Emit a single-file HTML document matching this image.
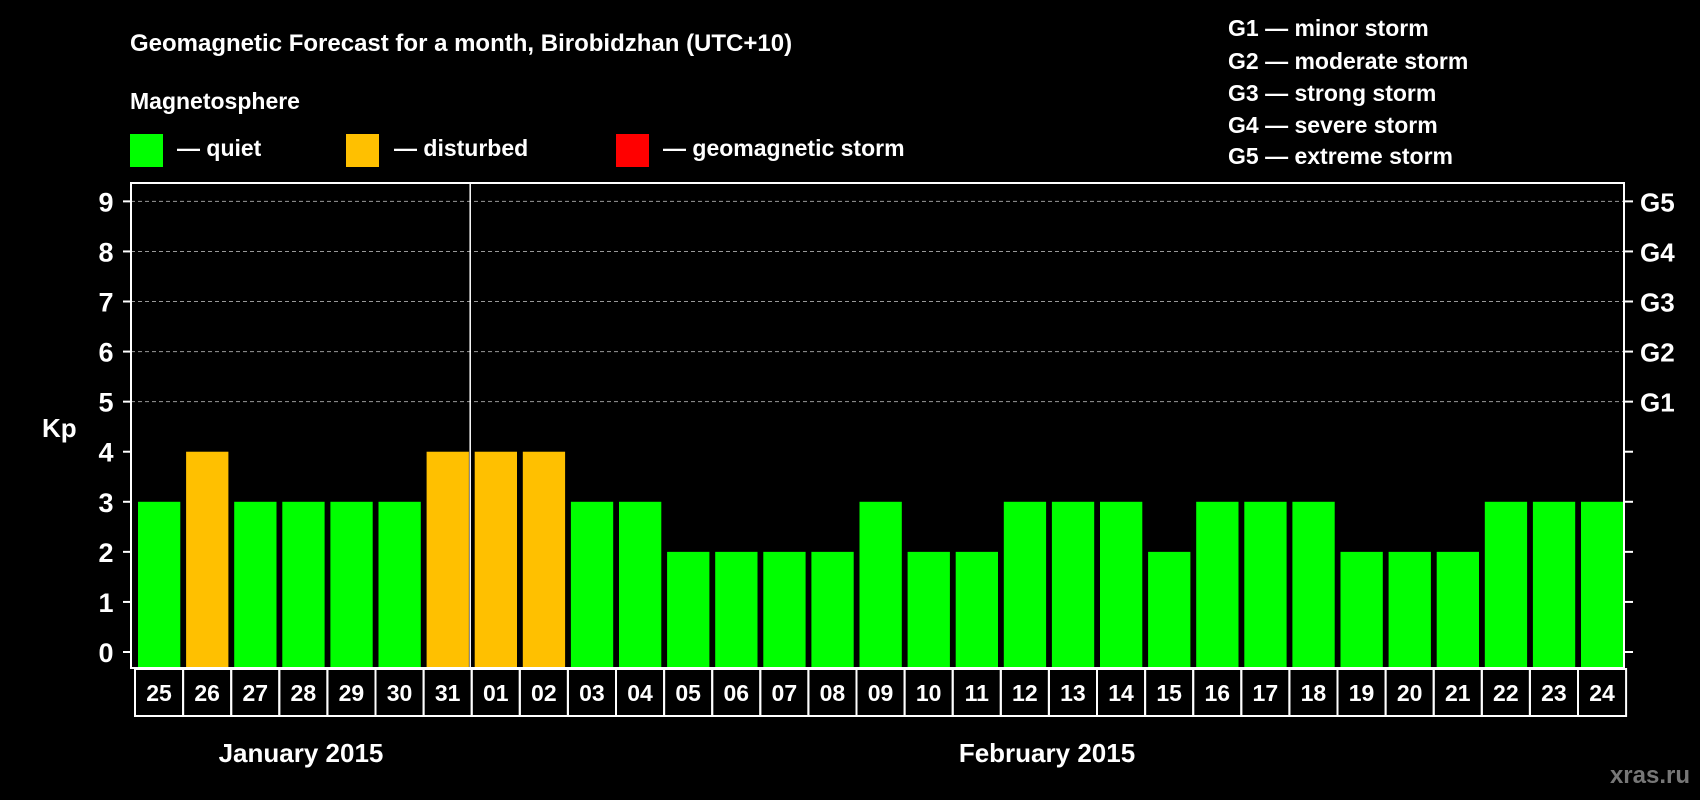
<!DOCTYPE html>
<html><head><meta charset="utf-8"><style>
html,body{margin:0;padding:0;background:#000;}
svg{display:block;font-family:"Liberation Sans",Arial,sans-serif;font-weight:bold;}
</style></head><body>
<svg id="chart" width="1700" height="800" viewBox="0 0 1700 800">
<text x="130" y="51" fill="#fff" font-size="24">Geomagnetic Forecast for a month, Birobidzhan (UTC+10)</text>
<text x="130" y="109" fill="#fff" font-size="23">Magnetosphere</text>
<g>
<rect x="130" y="134" width="33" height="33" fill="#00ff00"/>
<text x="177" y="156" fill="#fff" font-size="23">— quiet</text>
<rect x="346" y="134" width="33" height="33" fill="#ffc000"/>
<text x="394" y="156" fill="#fff" font-size="23">— disturbed</text>
<rect x="616" y="134" width="33" height="33" fill="#ff0000"/>
<text x="663" y="156" fill="#fff" font-size="23">— geomagnetic storm</text>
</g>
<g fill="#fff" font-size="23">
<text x="1228" y="36">G1 — minor storm</text>
<text x="1228" y="69">G2 — moderate storm</text>
<text x="1228" y="101">G3 — strong storm</text>
<text x="1228" y="133">G4 — severe storm</text>
<text x="1228" y="164">G5 — extreme storm</text>
</g>
<text x="42" y="437" fill="#fff" font-size="26">Kp</text>
<text x="301" y="762" fill="#fff" font-size="26" text-anchor="middle">January 2015</text>
<text x="1047" y="762" fill="#fff" font-size="26" text-anchor="middle">February 2015</text>
<text x="1690" y="783" fill="#777" font-size="24" text-anchor="end">xras.ru</text>
<g id="plot"></g>
</svg>
<script>
const days = ["25","26","27","28","29","30","31","01","02","03","04","05","06","07","08","09","10","11","12","13","14","15","16","17","18","19","20","21","22","23","24"];
const kp = [3,4,3,3,3,3,4,4,4,3,3,2,2,2,2,3,2,2,3,3,3,2,3,3,3,2,2,2,3,3,3];
const yTicks = [0,1,2,3,4,5,6,7,8,9];
const gLabels = ["G1","G2","G3","G4","G5"];
const gLevels = [5,6,7,8,9];
const monthBreak = 7;

const NS="http://www.w3.org/2000/svg";
const L=131, R=1624, T=183, B=668, Y0=652, UNIT=50.07, X0=135, PITCH=48.1;
const y = v => Y0 - v*UNIT;
const x = i => X0 + i*PITCH;
const plot=document.getElementById('plot');
function mk(tag, attrs){const e=document.createElementNS(NS,tag);for(const k in attrs)e.setAttribute(k,attrs[k]);plot.appendChild(e);return e;}

yTicks.forEach(v=>{
  if(v>=5){const g=mk('line',{x1:L,x2:R,y1:y(v),y2:y(v),stroke:'#999','stroke-width':1,'stroke-dasharray':'4,3'});
    
    }
  const t1=mk('line',{x1:L-8,x2:L,y1:y(v),y2:y(v),stroke:'#fff','stroke-width':2});
  
  
  const t2=mk('line',{x1:R,x2:R+9,y1:y(v),y2:y(v),stroke:'#fff','stroke-width':2});
  
  
  const lb=mk('text',{x:106,y:y(v)+10,fill:'#fff','font-size':27,'text-anchor':'middle'});
  lb.textContent=v;
  
  
});
gLabels.forEach((g,i)=>{
  const t=mk('text',{x:1640,y:y(gLevels[i])+10,fill:'#fff','font-size':26});
  t.textContent=g;
  
  
});
kp.forEach((v,i)=>{
  const bw=42.3, bx=x(i)+3;
  const r=mk('rect',{x:bx,y:y(v),width:bw,height:B-y(v),fill:v>=5?'#ff0000':(v>=4?'#ffc000':'#00ff00')});
  
  
  const c=mk('rect',{x:x(i),y:B+1,width:PITCH,height:47,fill:'none',stroke:'#fff','stroke-width':2});
  
  
  const t=mk('text',{x:x(i)+PITCH/2,y:B+33,fill:'#fff','font-size':23,'text-anchor':'middle'});
  t.textContent=days[i];
  
  
});
const div=mk('line',{x1:x(monthBreak)-1.5,x2:x(monthBreak)-1.5,y1:T,y2:B,stroke:'#fff','stroke-width':1.5});


const fr=mk('rect',{x:L,y:T,width:R-L,height:B-T,fill:'none',stroke:'#fff','stroke-width':2});


</script>
</body></html>
